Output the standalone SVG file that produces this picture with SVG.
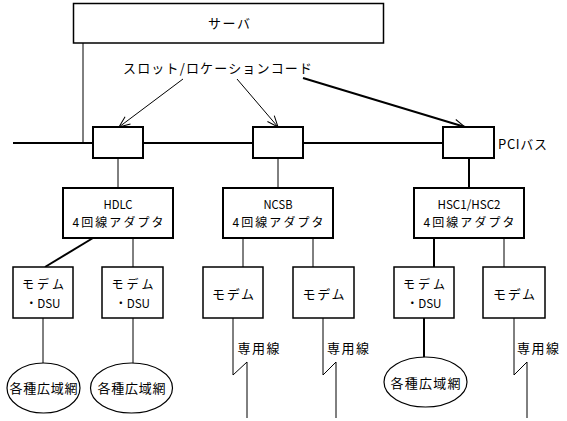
<svg xmlns="http://www.w3.org/2000/svg" width="567" height="421" viewBox="0 0 567 421">
<style>
  .box { fill: #fff; stroke: #000; stroke-width: 2; }
  .mbox { fill: #fff; stroke: #000; stroke-width: 1.5; }
  .ell { fill: #fff; stroke: #000; stroke-width: 1.2; }
  .t { font-family: "Noto Sans CJK JP", "Noto Sans CJK SC", sans-serif; font-size: 13px; fill: #000; text-anchor: middle; dominant-baseline: central; }
  .s { font-size: 12px; }
  .thin { fill: none; stroke: #000; stroke-width: 1; }
  .thick { fill: none; stroke: #000; stroke-width: 2; }
</style>
<defs>
  <marker id="arr" markerUnits="userSpaceOnUse" markerWidth="14" markerHeight="14" viewBox="-12 -6 14 12" refX="0" refY="0" orient="auto">
    <path d="M-11,-4.5 L0,0 L-11,4.5" fill="none" stroke="#000" stroke-width="1"/>
  </marker>
</defs>
<rect width="567" height="421" fill="#fff"/>

<g id="connectors">
  <line class="thin" x1="83" y1="43" x2="83" y2="143"/>
  <line class="thick" x1="13" y1="143" x2="443" y2="143"/>
  <line class="thin" x1="183" y1="79" x2="119" y2="127" marker-end="url(#arr)"/>
  <line class="thin" x1="237" y1="79" x2="278" y2="127" marker-end="url(#arr)"/>
  <line class="thick" x1="303" y1="78" x2="465" y2="127" marker-end="url(#arr)"/>
  <line class="thin" x1="118" y1="158" x2="118" y2="188"/>
  <line class="thin" x1="278" y1="158" x2="278" y2="188"/>
  <line class="thick" x1="469" y1="158" x2="469" y2="188"/>
  <line class="thick" x1="93" y1="238" x2="45" y2="267"/>
  <line class="thin" x1="133" y1="238" x2="133" y2="267"/>
  <line class="thin" x1="243" y1="238" x2="243" y2="267"/>
  <line class="thin" x1="313" y1="238" x2="313" y2="267"/>
  <line class="thick" x1="434" y1="238" x2="434" y2="267"/>
  <line class="thin" x1="504" y1="238" x2="504" y2="267"/>
  <line class="thin" x1="43" y1="318" x2="43" y2="363"/>
  <line class="thin" x1="133" y1="318" x2="133" y2="363"/>
  <line class="thick" x1="424" y1="318" x2="424" y2="357"/>
  <polyline class="thin" points="233,318 233,375 247,362 247,418"/>
  <polyline class="thin" points="323,318 323,375 336,362 336,418"/>
  <polyline class="thin" points="514,318 514,375 527,362 527,418"/>
</g>

<g id="server">
  <rect class="mbox" x="73.5" y="3.5" width="310" height="39.5"/>
  <text class="t" x="229" y="22" textLength="42">サーバ</text>
</g>

<g id="slot-label">
  <text class="t" x="217.5" y="67" textLength="189" lengthAdjust="spacing">スロット/ロケーションコード</text>
</g>

<g id="slot1"><rect class="box" x="93" y="127" width="50" height="31"/></g>
<g id="slot2"><rect class="box" x="253" y="127" width="50" height="31"/></g>
<g id="slot3"><rect class="box" x="443" y="127" width="51" height="31"/></g>

<g id="pci-label">
  <text class="t" x="522.5" y="143" textLength="49">PCIバス</text>
</g>

<g id="adapter-hdlc">
  <rect class="box" x="63" y="188" width="110" height="50"/>
  <text class="t s" x="118" y="203" textLength="29" lengthAdjust="spacingAndGlyphs">HDLC</text>
  <text class="t s" x="118" y="221" textLength="91">4回線アダプタ</text>
</g>
<g id="adapter-ncsb">
  <rect class="box" x="223" y="188" width="110" height="50"/>
  <text class="t s" x="278" y="203" textLength="29" lengthAdjust="spacingAndGlyphs">NCSB</text>
  <text class="t s" x="278" y="221" textLength="91">4回線アダプタ</text>
</g>
<g id="adapter-hsc">
  <rect class="box" x="414" y="188" width="110" height="50"/>
  <text class="t s" x="469" y="203" textLength="63" lengthAdjust="spacingAndGlyphs">HSC1/HSC2</text>
  <text class="t s" x="469" y="221" textLength="91">4回線アダプタ</text>
</g>

<g id="modem1">
  <rect class="mbox" x="13" y="267" width="60" height="51"/>
  <text class="t s" x="43" y="283" textLength="42">モデム</text>
  <text class="t s" x="43" y="302" textLength="35" lengthAdjust="spacingAndGlyphs">・DSU</text>
</g>
<g id="modem2">
  <rect class="mbox" x="102" y="267" width="61" height="51"/>
  <text class="t s" x="132.5" y="283" textLength="42">モデム</text>
  <text class="t s" x="132.5" y="302" textLength="35" lengthAdjust="spacingAndGlyphs">・DSU</text>
</g>
<g id="modem3">
  <rect class="mbox" x="203" y="267" width="60" height="51"/>
  <text class="t" x="233" y="293" textLength="42">モデム</text>
</g>
<g id="modem4">
  <rect class="mbox" x="293" y="267" width="61" height="51"/>
  <text class="t" x="323.5" y="293" textLength="42">モデム</text>
</g>
<g id="modem5">
  <rect class="mbox" x="394" y="267" width="60" height="51"/>
  <text class="t s" x="424" y="283" textLength="42">モデム</text>
  <text class="t s" x="424" y="302" textLength="35" lengthAdjust="spacingAndGlyphs">・DSU</text>
</g>
<g id="modem6">
  <rect class="mbox" x="483" y="267" width="62" height="51"/>
  <text class="t" x="514" y="293" textLength="42">モデム</text>
</g>

<g id="wan1">
  <ellipse class="ell" cx="43.5" cy="388" rx="36.5" ry="25"/>
  <text class="t" x="43.5" y="387.5" textLength="68">各種広域網</text>
</g>
<g id="wan2">
  <ellipse class="ell" cx="131.5" cy="388" rx="41" ry="25"/>
  <text class="t" x="131.5" y="387.5" textLength="68">各種広域網</text>
</g>
<g id="wan3">
  <ellipse class="ell" cx="425.5" cy="382" rx="41.5" ry="25"/>
  <text class="t" x="425.5" y="382" textLength="70">各種広域網</text>
</g>

<g id="leased1"><text class="t" x="258.5" y="347" textLength="42">専用線</text></g>
<g id="leased2"><text class="t" x="348" y="347" textLength="42">専用線</text></g>
<g id="leased3"><text class="t" x="538" y="347" textLength="42">専用線</text></g>
</svg>
